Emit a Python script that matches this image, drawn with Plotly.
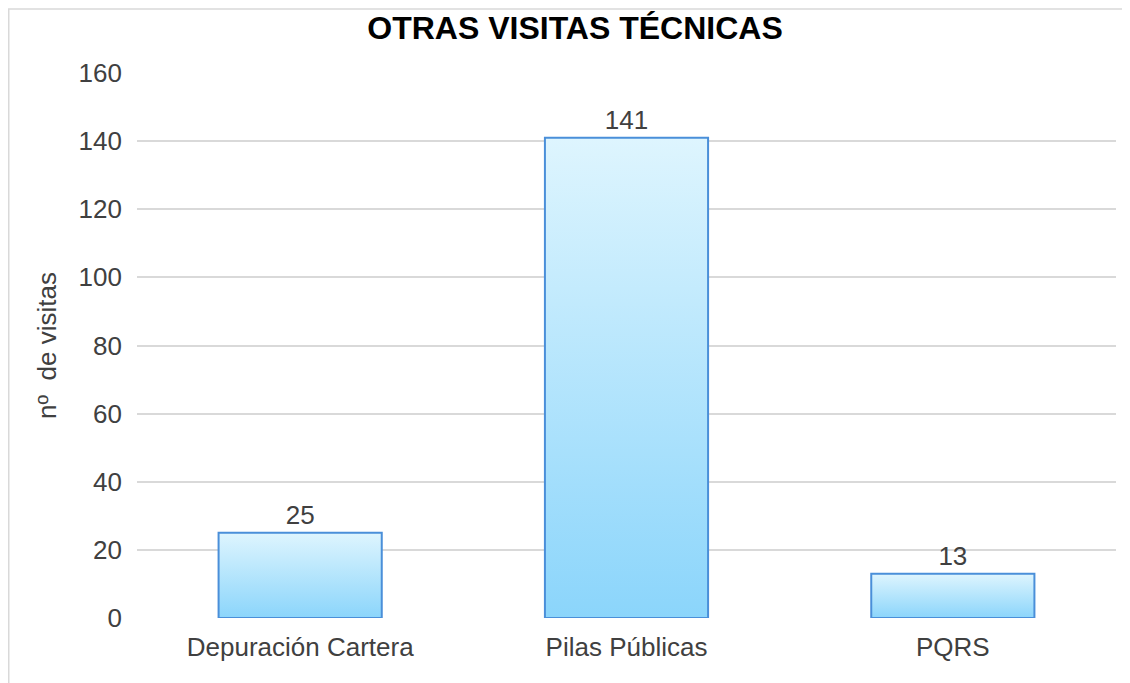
import plotly.graph_objects as go

categories = ["Depuración Cartera", "Pilas Públicas", "PQRS"]
values = [25, 141, 13]
y_ticks = [0, 20, 40, 60, 80, 100, 120, 140, 160]

title_text = "OTRAS VISITAS TÉCNICAS"
y_title = "nº  de visitas"

W, H = 1130, 683
ML, MR, MT, MB = 129, 22, 65, 73
BAR_W = 0.5
TOP_COL = "#def5fe"
BOT_COL = "#8bd5fb"
EDGE_COL = "#4a8fd9"
FONT = "Liberation Sans, Arial, sans-serif"
TXT = "#404040"

idx = list(range(len(categories)))
fig = go.Figure()

# invisible bars carry the value labels
fig.add_trace(go.Bar(
    x=idx, y=values, width=BAR_W,
    marker=dict(color="rgba(0,0,0,0)", line=dict(width=0)),
    text=[str(v) for v in values], textposition="outside",
    textfont=dict(family=FONT, size=26, color=TXT),
    cliponaxis=False, hoverinfo="skip", showlegend=False,
))

# gradient filled bars
for i, v in zip(idx, values):
    x0, x1 = i - BAR_W / 2, i + BAR_W / 2
    fig.add_trace(go.Scatter(
        x=[x0, x0, x1, x1, x0], y=[0, v, v, 0, 0],
        mode="lines", fill="toself",
        fillgradient=dict(type="vertical", colorscale=[[0, BOT_COL], [1, TOP_COL]]),
        line=dict(color=EDGE_COL, width=2),
        hoverinfo="skip", showlegend=False,
    ))

pw = W - ML - MR
ph = H - MT - MB


def px_x(p):
    return (p - ML) / pw


def px_y(p):
    return (H - MB - p) / ph


# outer chart frame: top and left edges
fig.add_shape(type="line", xref="paper", yref="paper",
              x0=px_x(0), x1=px_x(W), y0=px_y(1), y1=px_y(1),
              line=dict(color="#d9d9d9", width=1.5), layer="below")
fig.add_shape(type="line", xref="paper", yref="paper",
              x0=px_x(0.75), x1=px_x(0.75), y0=px_y(1), y1=px_y(H),
              line=dict(color="#d9d9d9", width=1.5), layer="below")

fig.update_layout(
    width=W, height=H,
    margin=dict(l=ML, r=MR, t=MT, b=MB),
    paper_bgcolor="white", plot_bgcolor="white",
    title=dict(text=f"<b>{title_text}</b>", x=567 / W, xanchor="center",
               y=1 - 20 / H, yanchor="middle", yref="container",
               font=dict(family=FONT, size=32, color="#000000")),
    font=dict(family=FONT, color=TXT),
    xaxis=dict(range=[-0.5, len(categories) - 0.5], tickvals=idx, ticktext=categories,
               showgrid=False, zeroline=False, showline=False, ticks="",
               tickfont=dict(size=26, color=TXT), ticklabelstandoff=11, fixedrange=True),
    yaxis=dict(range=[0, 160], tickvals=y_ticks, showgrid=True, gridcolor="#d9d9d9",
               gridwidth=1.5, zeroline=False, showline=False, ticks="",
               tickfont=dict(size=26, color=TXT), ticklabelstandoff=14,
               title=dict(text=y_title, font=dict(size=26, color=TXT), standoff=14)),
    bargap=0.5,
)

fig.write_html(
    "out.html",
    post_script="document.documentElement.style.overflow='hidden';document.body.style.overflow='hidden';",
)
